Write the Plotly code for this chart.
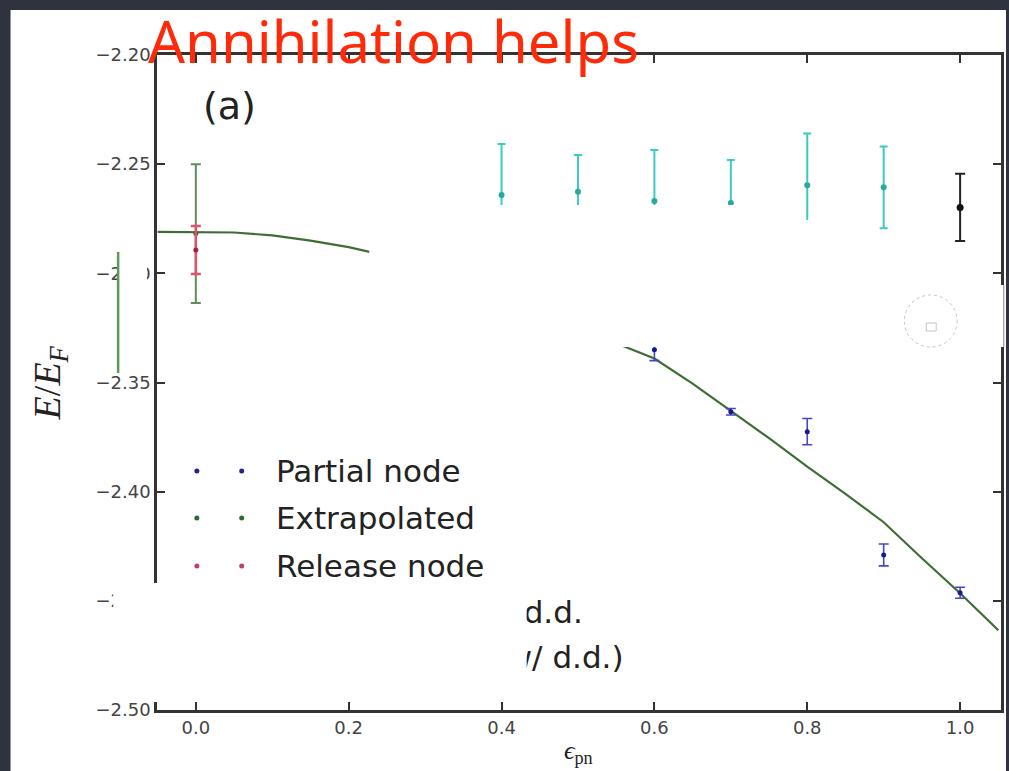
import plotly.graph_objects as go

# ---------------- data ----------------
fit_x = [-0.05, 0.0, 0.05, 0.10, 0.15, 0.20, 0.25, 0.30, 0.35, 0.40, 0.45, 0.50,
         0.55, 0.60, 0.65, 0.70, 0.75, 0.80, 0.85, 0.90, 0.95, 1.00, 1.05]
fit_y = [-2.2810, -2.2810, -2.2813, -2.2826, -2.2850, -2.2880, -2.2920, -2.2970,
         -2.3030, -2.3095, -2.3165, -2.3240, -2.3320, -2.3390, -2.3505, -2.3630,
         -2.3755, -2.3885, -2.4010, -2.4140, -2.4305, -2.4465, -2.4635]

partial_x = [0.6, 0.7, 0.8, 0.9, 1.0]
partial_y = [-2.3350, -2.3634, -2.3725, -2.4290, -2.4463]
partial_err = [0.0050, 0.0015, 0.0060, 0.0050, 0.0025]

dd_x = [0.4, 0.5, 0.6, 0.7, 0.8, 0.9]
dd_y = [-2.2641, -2.2626, -2.2669, -2.2678, -2.2596, -2.2606]
dd_err = [0.0233, 0.0168, 0.0234, 0.0197, 0.0237, 0.0187]

black_x = [1.0]
black_y = [-2.2698]
black_err = [0.0154]

extrap_x = [0.0]
extrap_y = [-2.2818]
extrap_err = [0.0318]

release_x = [0.0]
release_y = [-2.2893]
release_err = [0.0110]

x_ticks = [0.0, 0.2, 0.4, 0.6, 0.8, 1.0]
y_ticks = [-2.50, -2.45, -2.40, -2.35, -2.30, -2.25, -2.20]

legend_labels = ["Partial node", "Extrapolated", "Release node"]
legend_colors = ["#22228a", "#2f6a2f", "#c04060"]
extra_legend_text = ["d.d.", "w/ d.d.)"]

title_text = "Annihilation helps"
panel_label = "(a)"

# ---------------- geometry ----------------
W, H = 1009, 771
L, R, T, B = 157, 1004, 55, 710          # plot area in pixels
XR = [-0.0508, 1.0535]
YR = [-2.50, -2.20]


def pp(px, py):
    """pixel -> paper coordinates"""
    return (px - L) / (R - L), (B - py) / (B - T)


def pd(px, py):
    """pixel -> data coordinates"""
    return (XR[0] + (px - L) / (R - L) * (XR[1] - XR[0]),
            YR[1] - (py - T) / (B - T) * (YR[1] - YR[0]))


fig = go.Figure()

# fit curve
fig.add_trace(go.Scatter(x=fit_x, y=fit_y, mode="lines",
                         line=dict(color="#3f6e35", width=2.2), hoverinfo="skip"))

# cyan d.d. points
fig.add_trace(go.Scatter(x=dd_x, y=dd_y, mode="markers",
                         marker=dict(color="#2aa89c", size=6),
                         error_y=dict(type="data", array=dd_err, color="#3ccac3",
                                      thickness=2, width=4)))
# black point
fig.add_trace(go.Scatter(x=black_x, y=black_y, mode="markers",
                         marker=dict(color="#111111", size=7),
                         error_y=dict(type="data", array=black_err, color="#222222",
                                      thickness=2, width=5)))
# partial node
fig.add_trace(go.Scatter(x=partial_x, y=partial_y, mode="markers",
                         marker=dict(color="#1a1a8a", size=5),
                         error_y=dict(type="data", array=partial_err, color="#4646c8",
                                      thickness=1.6, width=5)))
# extrapolated
fig.add_trace(go.Scatter(x=extrap_x, y=extrap_y, mode="markers",
                         marker=dict(color="#2f6a2f", size=5),
                         error_y=dict(type="data", array=extrap_err, color="#5b8f5b",
                                      thickness=2, width=5)))
# release node
fig.add_trace(go.Scatter(x=release_x, y=release_y, mode="markers",
                         marker=dict(color="#a02040", size=5),
                         error_y=dict(type="data", array=release_err, color="#e4506a",
                                      thickness=2.5, width=5)))

# manual legend markers (two points per entry)
row_y = [471, 518, 566]
for lab, col, ry in zip(legend_labels, legend_colors, row_y):
    a = pd(197, ry)
    b = pd(242, ry)
    fig.add_trace(go.Scatter(x=[a[0], b[0]], y=[a[1], b[1]], mode="markers",
                             marker=dict(color=col, size=5), hoverinfo="skip"))

# partially covered legend rows (text trace so the white box can cover it)
p4 = pd(525, 615)
p5 = pd(508, 660)
fig.add_trace(go.Scatter(x=[p4[0], p5[0]], y=[p4[1], p5[1]], mode="text",
                         text=extra_legend_text, textposition="middle right",
                         textfont=dict(family="DejaVu Sans", size=31, color="#222222"),
                         hoverinfo="skip"))

shapes = []
# white slide panel
x0, y0 = pp(10, 771)
x1, y1 = pp(1009, 10)
shapes.append(dict(type="rect", xref="paper", yref="paper", x0=x0, y0=y0, x1=x1, y1=y1,
                   fillcolor="white", line=dict(width=0), layer="below"))


def cover(ax0, ay0, ax1, ay1, color="white"):
    a = pp(ax0, ay1)
    b = pp(ax1, ay0)
    shapes.append(dict(type="rect", xref="paper", yref="paper", x0=a[0], y0=a[1],
                       x1=b[0], y1=b[1], fillcolor=color, line=dict(width=0),
                       layer="above"))


cover(370, 220, 815, 347)
cover(475, 205, 743, 220)
cover(370, 285, 1006, 347)
cover(113, 583, 528, 702)
cover(118, 252, 147, 373)

# green edge line of the small covering box
g0 = pp(118, 373)
g1 = pp(118, 252)
shapes.append(dict(type="line", xref="paper", yref="paper", x0=g0[0], y0=g0[1],
                   x1=g1[0], y1=g1[1], line=dict(color="#5c9a5c", width=2.5),
                   layer="above"))
# faint edge on the right
e0 = pp(1007, 347)
e1 = pp(1007, 285)
shapes.append(dict(type="line", xref="paper", yref="paper", x0=e0[0], y0=e0[1],
                   x1=e1[0], y1=e1[1], line=dict(color="#cccccc", width=1.5),
                   layer="above"))
# faint dashed circle icon
c0 = pp(907, 347)
c1 = pp(960, 295)
shapes.append(dict(type="circle", xref="paper", yref="paper", x0=c0[0], y0=c0[1],
                   x1=c1[0], y1=c1[1], line=dict(color="#c4c4c4", width=1, dash="dot"),
                   layer="above"))
s0 = pp(929, 331)
s1 = pp(939, 323)
shapes.append(dict(type="rect", xref="paper", yref="paper", x0=s0[0], y0=s0[1],
                   x1=s1[0], y1=s1[1], line=dict(color="#c4c4c4", width=1),
                   layer="above"))

annotations = []


def ann(text, px, py, size, color="#222222", family="DejaVu Sans", xanchor="left",
        yanchor="middle", angle=0):
    a = pp(px, py)
    annotations.append(dict(text=text, x=a[0], y=a[1], xref="paper", yref="paper",
                            xanchor=xanchor, yanchor=yanchor, showarrow=False,
                            textangle=angle,
                            font=dict(family=family, size=size, color=color)))


for lab, ry in zip(legend_labels, row_y):
    ann(lab, 274, ry, 31)

ann(panel_label, 230, 106, 38, xanchor="center")
ann("<i>E</i>/<i>E</i><sub><i>F</i></sub>", 50, 383, 38, family="Liberation Serif",
    xanchor="center", angle=-90)
ann("<i>ϵ</i><sub>pn</sub>", 580, 770, 26, family="Liberation Serif",
    xanchor="center", yanchor="bottom")
ann(title_text, 146, 40, 58, color="#ff2a0a", family="Noto Sans")

axis_common = dict(showline=True, linecolor="#333333", linewidth=2.5, mirror="ticks",
                   ticks="inside", ticklen=8, tickwidth=1.5, tickcolor="#333333",
                   showgrid=False, zeroline=False,
                   tickfont=dict(family="DejaVu Sans", size=18, color="#444444"))

fig.update_layout(
    width=W, height=H, autosize=False,
    margin=dict(l=L, r=W - R, t=T, b=H - B),
    paper_bgcolor="#2f333d", plot_bgcolor="white",
    showlegend=False,
    shapes=shapes, annotations=annotations,
    xaxis=dict(range=XR, tickvals=x_ticks, tickformat=".1f", **axis_common),
    yaxis=dict(range=YR, tickvals=y_ticks, tickformat=".2f", **axis_common),
)

fig.write_html("out.html")
